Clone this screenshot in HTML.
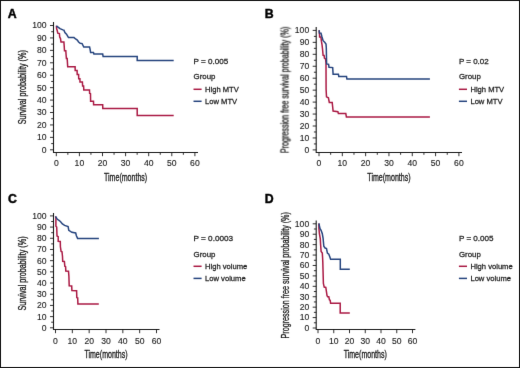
<!DOCTYPE html><html><head><meta charset="utf-8"><style>html,body{margin:0;padding:0;background:#fff}svg{display:block;will-change:transform}</style></head><body>
<svg width="520" height="368" viewBox="0 0 520 368" font-family='&quot;Liberation Sans&quot;, sans-serif'><style>text{stroke:#1c1c1c;stroke-width:0.26px}</style>
<defs><filter id="bl" x="0" y="0" width="1" height="1" color-interpolation-filters="sRGB"><feConvolveMatrix order="3" kernelMatrix="0 1 0 1 12 1 0 1 0" divisor="16" edgeMode="duplicate"/></filter></defs><g filter="url(#bl)">
<rect x="0" y="0" width="520" height="368" fill="#fff"/>
<rect x="0.5" y="0.5" width="519" height="367" fill="none" stroke="#111" stroke-width="1"/>
<g><path d="M53.5 22V153M53 152.5H198" stroke="#1a1a1a" stroke-width="1.1" fill="none"/><path d="M50 149.8H53.5M51.2 143.59H53.5M50 137.37H53.5M51.2 131.16H53.5M50 124.94H53.5M51.2 118.73H53.5M50 112.51H53.5M51.2 106.3H53.5M50 100.08H53.5M51.2 93.87H53.5M50 87.65H53.5M51.2 81.44H53.5M50 75.22H53.5M51.2 69.01H53.5M50 62.79H53.5M51.2 56.58H53.5M50 50.36H53.5M51.2 44.14H53.5M50 37.93H53.5M51.2 31.72H53.5M50 25.5H53.5M56.3 152.5V156.2M67.85 152.5V154.8M79.4 152.5V156.2M90.95 152.5V154.8M102.5 152.5V156.2M114.05 152.5V154.8M125.6 152.5V156.2M137.15 152.5V154.8M148.7 152.5V156.2M160.25 152.5V154.8M171.8 152.5V156.2M183.35 152.5V154.8M194.9 152.5V156.2" stroke="#1a1a1a" stroke-width="0.9" fill="none"/><text x="46.5" y="152.7" font-size="8.6" text-anchor="end" fill="#1c1c1c" style="stroke-width:0.12px">0</text><text x="46.5" y="140.27" font-size="8.6" text-anchor="end" fill="#1c1c1c" style="stroke-width:0.12px">10</text><text x="46.5" y="127.84" font-size="8.6" text-anchor="end" fill="#1c1c1c" style="stroke-width:0.12px">20</text><text x="46.5" y="115.41" font-size="8.6" text-anchor="end" fill="#1c1c1c" style="stroke-width:0.12px">30</text><text x="46.5" y="102.98" font-size="8.6" text-anchor="end" fill="#1c1c1c" style="stroke-width:0.12px">40</text><text x="46.5" y="90.55" font-size="8.6" text-anchor="end" fill="#1c1c1c" style="stroke-width:0.12px">50</text><text x="46.5" y="78.12" font-size="8.6" text-anchor="end" fill="#1c1c1c" style="stroke-width:0.12px">60</text><text x="46.5" y="65.69" font-size="8.6" text-anchor="end" fill="#1c1c1c" style="stroke-width:0.12px">70</text><text x="46.5" y="53.26" font-size="8.6" text-anchor="end" fill="#1c1c1c" style="stroke-width:0.12px">80</text><text x="46.5" y="40.83" font-size="8.6" text-anchor="end" fill="#1c1c1c" style="stroke-width:0.12px">90</text><text x="46.5" y="28.4" font-size="8.6" text-anchor="end" fill="#1c1c1c" style="stroke-width:0.12px">100</text><text x="56.3" y="166.1" font-size="8.6" text-anchor="middle" fill="#1c1c1c" style="stroke-width:0.12px">0</text><text x="79.4" y="166.1" font-size="8.6" text-anchor="middle" fill="#1c1c1c" style="stroke-width:0.12px">10</text><text x="102.5" y="166.1" font-size="8.6" text-anchor="middle" fill="#1c1c1c" style="stroke-width:0.12px">20</text><text x="125.6" y="166.1" font-size="8.6" text-anchor="middle" fill="#1c1c1c" style="stroke-width:0.12px">30</text><text x="148.7" y="166.1" font-size="8.6" text-anchor="middle" fill="#1c1c1c" style="stroke-width:0.12px">40</text><text x="171.8" y="166.1" font-size="8.6" text-anchor="middle" fill="#1c1c1c" style="stroke-width:0.12px">50</text><text x="194.9" y="166.1" font-size="8.6" text-anchor="middle" fill="#1c1c1c" style="stroke-width:0.12px">60</text><text x="125.6" y="180.9" font-size="11" text-anchor="middle" textLength="43.2" lengthAdjust="spacingAndGlyphs" fill="#1c1c1c" style="stroke-width:0.34px">Time(months)</text><text transform="translate(25.9 87.25) rotate(-90)" x="0" y="0" font-size="11" text-anchor="middle" textLength="74.2" lengthAdjust="spacingAndGlyphs" fill="#1c1c1c" style="stroke-width:0.34px">Survival probability (%)</text><text x="7.8" y="17.7" font-size="12.3" font-weight="bold" fill="#000" style="stroke:#000;stroke-width:0.45px">A</text><text x="193.5" y="64" font-size="8" textLength="34.7" lengthAdjust="spacingAndGlyphs" fill="#1c1c1c">P = 0.005</text><text x="193.5" y="79.3" font-size="8.1" textLength="21.9" lengthAdjust="spacingAndGlyphs" fill="#1c1c1c">Group</text><path d="M193.5 89.3H201.6" stroke="#aa1a44" stroke-width="1.5"/><path d="M193.5 101.3H201.6" stroke="#26447e" stroke-width="1.5"/><text x="205" y="91.7" font-size="8.1" textLength="33.8" lengthAdjust="spacingAndGlyphs" fill="#1c1c1c">High MTV</text><text x="205" y="104.3" font-size="8.1" textLength="32.2" lengthAdjust="spacingAndGlyphs" fill="#1c1c1c">Low MTV</text><path d="M56.4 25.8 L56.6 28.5 L57.2 30.5 L57.8 33.2 L59.4 33.6 L59.7 37.1 L60.5 38.6 L61 42 L63.9 42 L64.2 46 L64.5 50.8 L65.8 50.8 L66.1 55 L66.4 58.6 L67.2 58.6 L67.7 66.7 L75.1 66.7 L75.2 70.6 L77.1 70.6 L77.2 74.4 L78.6 74.4 L78.7 78.7 L79.9 78.7 L80 82.1 L82.4 82.1 L82.6 86 L83.6 86 L83.8 90.1 L89.5 90.1 L89.6 93.3 L90.5 93.7 L90.6 101.2 L93.5 101.2 L93.6 104.8 L102.7 104.8 L102.8 108.6 L137.2 108.6 L137.2 115.4 L173.7 115.4" stroke="#aa1a44" stroke-width="1.5" fill="none" stroke-linejoin="miter"/><path d="M56.4 25.8 L58.3 27.3 L60 28.6 L62.9 29.9 L63.9 30.2 L64.9 32.5 L66.5 34.1 L67.5 35.8 L68.5 37.6 L74 37.6 L75.6 39 L77.3 40 L78.6 42 L80.2 43.3 L82.1 43.6 L83.8 47 L89.6 47 L90.1 49.4 L90.6 52.4 L93.5 52.4 L93.9 54.1 L102.7 54.1 L103.1 56.4 L137.2 56.4 L137.2 60.6 L173.7 60.6" stroke="#26447e" stroke-width="1.5" fill="none" stroke-linejoin="miter"/></g>
<g><path d="M316.2 27V153M315.7 152.5H462" stroke="#1a1a1a" stroke-width="1.1" fill="none"/><path d="M312.7 149.9H316.2M313.9 143.93H316.2M312.7 137.95H316.2M313.9 131.97H316.2M312.7 126H316.2M313.9 120.03H316.2M312.7 114.05H316.2M313.9 108.08H316.2M312.7 102.1H316.2M313.9 96.12H316.2M312.7 90.15H316.2M313.9 84.17H316.2M312.7 78.2H316.2M313.9 72.23H316.2M312.7 66.25H316.2M313.9 60.28H316.2M312.7 54.3H316.2M313.9 48.33H316.2M312.7 42.35H316.2M313.9 36.38H316.2M312.7 30.4H316.2M319 152.5V156.2M330.66 152.5V154.8M342.32 152.5V156.2M353.98 152.5V154.8M365.63 152.5V156.2M377.29 152.5V154.8M388.95 152.5V156.2M400.61 152.5V154.8M412.27 152.5V156.2M423.92 152.5V154.8M435.58 152.5V156.2M447.24 152.5V154.8M458.9 152.5V156.2" stroke="#1a1a1a" stroke-width="0.9" fill="none"/><text x="309.2" y="152.8" font-size="8.6" text-anchor="end" fill="#1c1c1c" style="stroke-width:0.12px">0</text><text x="309.2" y="140.85" font-size="8.6" text-anchor="end" fill="#1c1c1c" style="stroke-width:0.12px">10</text><text x="309.2" y="128.9" font-size="8.6" text-anchor="end" fill="#1c1c1c" style="stroke-width:0.12px">20</text><text x="309.2" y="116.95" font-size="8.6" text-anchor="end" fill="#1c1c1c" style="stroke-width:0.12px">30</text><text x="309.2" y="105" font-size="8.6" text-anchor="end" fill="#1c1c1c" style="stroke-width:0.12px">40</text><text x="309.2" y="93.05" font-size="8.6" text-anchor="end" fill="#1c1c1c" style="stroke-width:0.12px">50</text><text x="309.2" y="81.1" font-size="8.6" text-anchor="end" fill="#1c1c1c" style="stroke-width:0.12px">60</text><text x="309.2" y="69.15" font-size="8.6" text-anchor="end" fill="#1c1c1c" style="stroke-width:0.12px">70</text><text x="309.2" y="57.2" font-size="8.6" text-anchor="end" fill="#1c1c1c" style="stroke-width:0.12px">80</text><text x="309.2" y="45.25" font-size="8.6" text-anchor="end" fill="#1c1c1c" style="stroke-width:0.12px">90</text><text x="309.2" y="33.3" font-size="8.6" text-anchor="end" fill="#1c1c1c" style="stroke-width:0.12px">100</text><text x="319" y="166.1" font-size="8.6" text-anchor="middle" fill="#1c1c1c" style="stroke-width:0.12px">0</text><text x="342.32" y="166.1" font-size="8.6" text-anchor="middle" fill="#1c1c1c" style="stroke-width:0.12px">10</text><text x="365.63" y="166.1" font-size="8.6" text-anchor="middle" fill="#1c1c1c" style="stroke-width:0.12px">20</text><text x="388.95" y="166.1" font-size="8.6" text-anchor="middle" fill="#1c1c1c" style="stroke-width:0.12px">30</text><text x="412.27" y="166.1" font-size="8.6" text-anchor="middle" fill="#1c1c1c" style="stroke-width:0.12px">40</text><text x="435.58" y="166.1" font-size="8.6" text-anchor="middle" fill="#1c1c1c" style="stroke-width:0.12px">50</text><text x="458.9" y="166.1" font-size="8.6" text-anchor="middle" fill="#1c1c1c" style="stroke-width:0.12px">60</text><text x="388.95" y="180.9" font-size="11" text-anchor="middle" textLength="43.2" lengthAdjust="spacingAndGlyphs" fill="#1c1c1c" style="stroke-width:0.34px">Time(months)</text><text transform="translate(288.5 89.8) rotate(-90)" x="0" y="0" font-size="11" text-anchor="middle" textLength="126.3" lengthAdjust="spacingAndGlyphs" fill="#1c1c1c" style="stroke-width:0.34px">Progression free survival probability (%)</text><text x="264.7" y="17.7" font-size="12.3" font-weight="bold" fill="#000" style="stroke:#000;stroke-width:0.45px">B</text><text x="458.9" y="64" font-size="8" textLength="29.8" lengthAdjust="spacingAndGlyphs" fill="#1c1c1c">P = 0.02</text><text x="458.9" y="79.3" font-size="8.1" textLength="21.9" lengthAdjust="spacingAndGlyphs" fill="#1c1c1c">Group</text><path d="M458.9 89.3H467" stroke="#aa1a44" stroke-width="1.5"/><path d="M458.9 101.3H467" stroke="#26447e" stroke-width="1.5"/><text x="470.4" y="91.7" font-size="8.1" textLength="33.8" lengthAdjust="spacingAndGlyphs" fill="#1c1c1c">High MTV</text><text x="470.4" y="104.3" font-size="8.1" textLength="32.2" lengthAdjust="spacingAndGlyphs" fill="#1c1c1c">Low MTV</text><path d="M319.2 30.3 L319.5 34.2 L319.6 36.9 L320.9 36.9 L321.4 41.2 L322 44.5 L322.5 48.8 L323.1 55.3 L324.1 55.5 L324.4 58.1 L325.5 59 L326 63 L326.1 89.2 L326.5 96.8 L328.4 97.8 L329.3 102.5 L332.2 102.5 L333.1 111.1 L337.9 111.7 L338.4 113.6 L345.8 113.6 L346.4 116.9 L429.9 116.9" stroke="#aa1a44" stroke-width="1.5" fill="none" stroke-linejoin="miter"/><path d="M319.2 30.3 L319.4 33 L321 33.1 L321.8 36.3 L323.1 40.7 L324.7 42.3 L326 44 L326.3 47.7 L326.6 63.9 L328.6 64.3 L329 67.3 L332.7 67.6 L333.1 74.2 L338.4 74.3 L338.8 76.5 L346.5 76.5 L346.9 78.9 L429.9 78.9" stroke="#26447e" stroke-width="1.5" fill="none" stroke-linejoin="miter"/></g>
<g><path d="M53.5 213V330M53 329.5H159.5" stroke="#1a1a1a" stroke-width="1.1" fill="none"/><path d="M50 327.8H53.5M51.2 322.2H53.5M50 316.61H53.5M51.2 311.01H53.5M50 305.42H53.5M51.2 299.82H53.5M50 294.23H53.5M51.2 288.63H53.5M50 283.04H53.5M51.2 277.44H53.5M50 271.85H53.5M51.2 266.25H53.5M50 260.66H53.5M51.2 255.06H53.5M50 249.47H53.5M51.2 243.88H53.5M50 238.28H53.5M51.2 232.69H53.5M50 227.09H53.5M51.2 221.5H53.5M50 215.9H53.5M55.5 329.5V333.2M72.33 329.5V333.2M89.17 329.5V333.2M106 329.5V333.2M122.83 329.5V333.2M139.67 329.5V333.2M156.5 329.5V333.2" stroke="#1a1a1a" stroke-width="0.9" fill="none"/><text x="46.5" y="330.7" font-size="8.6" text-anchor="end" fill="#1c1c1c" style="stroke-width:0.12px">0</text><text x="46.5" y="319.51" font-size="8.6" text-anchor="end" fill="#1c1c1c" style="stroke-width:0.12px">10</text><text x="46.5" y="308.32" font-size="8.6" text-anchor="end" fill="#1c1c1c" style="stroke-width:0.12px">20</text><text x="46.5" y="297.13" font-size="8.6" text-anchor="end" fill="#1c1c1c" style="stroke-width:0.12px">30</text><text x="46.5" y="285.94" font-size="8.6" text-anchor="end" fill="#1c1c1c" style="stroke-width:0.12px">40</text><text x="46.5" y="274.75" font-size="8.6" text-anchor="end" fill="#1c1c1c" style="stroke-width:0.12px">50</text><text x="46.5" y="263.56" font-size="8.6" text-anchor="end" fill="#1c1c1c" style="stroke-width:0.12px">60</text><text x="46.5" y="252.37" font-size="8.6" text-anchor="end" fill="#1c1c1c" style="stroke-width:0.12px">70</text><text x="46.5" y="241.18" font-size="8.6" text-anchor="end" fill="#1c1c1c" style="stroke-width:0.12px">80</text><text x="46.5" y="229.99" font-size="8.6" text-anchor="end" fill="#1c1c1c" style="stroke-width:0.12px">90</text><text x="46.5" y="218.8" font-size="8.6" text-anchor="end" fill="#1c1c1c" style="stroke-width:0.12px">100</text><text x="55.5" y="343.8" font-size="8.6" text-anchor="middle" fill="#1c1c1c" style="stroke-width:0.12px">0</text><text x="72.33" y="343.8" font-size="8.6" text-anchor="middle" fill="#1c1c1c" style="stroke-width:0.12px">10</text><text x="89.17" y="343.8" font-size="8.6" text-anchor="middle" fill="#1c1c1c" style="stroke-width:0.12px">20</text><text x="106" y="343.8" font-size="8.6" text-anchor="middle" fill="#1c1c1c" style="stroke-width:0.12px">30</text><text x="122.83" y="343.8" font-size="8.6" text-anchor="middle" fill="#1c1c1c" style="stroke-width:0.12px">40</text><text x="139.67" y="343.8" font-size="8.6" text-anchor="middle" fill="#1c1c1c" style="stroke-width:0.12px">50</text><text x="156.5" y="343.8" font-size="8.6" text-anchor="middle" fill="#1c1c1c" style="stroke-width:0.12px">60</text><text x="106" y="357.9" font-size="11" text-anchor="middle" textLength="43.2" lengthAdjust="spacingAndGlyphs" fill="#1c1c1c" style="stroke-width:0.34px">Time(months)</text><text transform="translate(25.9 273.45) rotate(-90)" x="0" y="0" font-size="11" text-anchor="middle" textLength="74.2" lengthAdjust="spacingAndGlyphs" fill="#1c1c1c" style="stroke-width:0.34px">Survival probability (%)</text><text x="7.9" y="202.7" font-size="12.3" font-weight="bold" fill="#000" style="stroke:#000;stroke-width:0.45px">C</text><text x="193.5" y="241.3" font-size="8" textLength="39.6" lengthAdjust="spacingAndGlyphs" fill="#1c1c1c">P = 0.0003</text><text x="193.5" y="257.1" font-size="8.1" textLength="21.9" lengthAdjust="spacingAndGlyphs" fill="#1c1c1c">Group</text><path d="M193.5 266.3H201.6" stroke="#aa1a44" stroke-width="1.5"/><path d="M193.5 278.4H201.6" stroke="#26447e" stroke-width="1.5"/><text x="205" y="268.6" font-size="8.1" textLength="42.3" lengthAdjust="spacingAndGlyphs" fill="#1c1c1c">High volume</text><text x="205" y="281" font-size="8.1" textLength="40.7" lengthAdjust="spacingAndGlyphs" fill="#1c1c1c">Low volume</text><path d="M55.5 216.4 L55.9 217.8 L55.9 226.2 L56.7 227 L57 236 L58.2 236.6 L58.2 241.3 L60.3 241.5 L60.4 246.8 L61.1 251.4 L62 251.8 L62.5 256.5 L62.7 261.3 L64.4 261.5 L64.8 266.2 L65.6 266.6 L65.8 271.1 L68.5 271.2 L68.9 276.3 L69.2 285.7 L71.7 285.9 L71.9 290.6 L76.6 290.7 L76.8 297.6 L77.7 297.9 L77.9 303.9 L98.8 303.9" stroke="#aa1a44" stroke-width="1.5" fill="none" stroke-linejoin="miter"/><path d="M55.5 216.4 L57.4 219.3 L59.3 220.5 L60.8 222 L62.4 223.9 L64.6 225.4 L68.1 226.5 L68.8 230.3 L71.9 232.3 L75.7 233 L76.4 235.7 L77.6 238.4 L98.9 238.4" stroke="#26447e" stroke-width="1.5" fill="none" stroke-linejoin="miter"/></g>
<g><path d="M316.2 220.5V330M315.7 329.5H415.4" stroke="#1a1a1a" stroke-width="1.1" fill="none"/><path d="M312.7 328H316.2M313.9 322.79H316.2M312.7 317.58H316.2M313.9 312.37H316.2M312.7 307.16H316.2M313.9 301.95H316.2M312.7 296.74H316.2M313.9 291.53H316.2M312.7 286.32H316.2M313.9 281.11H316.2M312.7 275.9H316.2M313.9 270.69H316.2M312.7 265.48H316.2M313.9 260.27H316.2M312.7 255.06H316.2M313.9 249.85H316.2M312.7 244.64H316.2M313.9 239.43H316.2M312.7 234.22H316.2M313.9 229.01H316.2M312.7 223.8H316.2M318 329.5V333.2M333.75 329.5V333.2M349.5 329.5V333.2M365.25 329.5V333.2M381 329.5V333.2M396.75 329.5V333.2M412.5 329.5V333.2" stroke="#1a1a1a" stroke-width="0.9" fill="none"/><text x="309.2" y="330.9" font-size="8.6" text-anchor="end" fill="#1c1c1c" style="stroke-width:0.12px">0</text><text x="309.2" y="320.48" font-size="8.6" text-anchor="end" fill="#1c1c1c" style="stroke-width:0.12px">10</text><text x="309.2" y="310.06" font-size="8.6" text-anchor="end" fill="#1c1c1c" style="stroke-width:0.12px">20</text><text x="309.2" y="299.64" font-size="8.6" text-anchor="end" fill="#1c1c1c" style="stroke-width:0.12px">30</text><text x="309.2" y="289.22" font-size="8.6" text-anchor="end" fill="#1c1c1c" style="stroke-width:0.12px">40</text><text x="309.2" y="278.8" font-size="8.6" text-anchor="end" fill="#1c1c1c" style="stroke-width:0.12px">50</text><text x="309.2" y="268.38" font-size="8.6" text-anchor="end" fill="#1c1c1c" style="stroke-width:0.12px">60</text><text x="309.2" y="257.96" font-size="8.6" text-anchor="end" fill="#1c1c1c" style="stroke-width:0.12px">70</text><text x="309.2" y="247.54" font-size="8.6" text-anchor="end" fill="#1c1c1c" style="stroke-width:0.12px">80</text><text x="309.2" y="237.12" font-size="8.6" text-anchor="end" fill="#1c1c1c" style="stroke-width:0.12px">90</text><text x="309.2" y="226.7" font-size="8.6" text-anchor="end" fill="#1c1c1c" style="stroke-width:0.12px">100</text><text x="318" y="343.8" font-size="8.6" text-anchor="middle" fill="#1c1c1c" style="stroke-width:0.12px">0</text><text x="333.75" y="343.8" font-size="8.6" text-anchor="middle" fill="#1c1c1c" style="stroke-width:0.12px">10</text><text x="349.5" y="343.8" font-size="8.6" text-anchor="middle" fill="#1c1c1c" style="stroke-width:0.12px">20</text><text x="365.25" y="343.8" font-size="8.6" text-anchor="middle" fill="#1c1c1c" style="stroke-width:0.12px">30</text><text x="381" y="343.8" font-size="8.6" text-anchor="middle" fill="#1c1c1c" style="stroke-width:0.12px">40</text><text x="396.75" y="343.8" font-size="8.6" text-anchor="middle" fill="#1c1c1c" style="stroke-width:0.12px">50</text><text x="412.5" y="343.8" font-size="8.6" text-anchor="middle" fill="#1c1c1c" style="stroke-width:0.12px">60</text><text x="365.25" y="357.9" font-size="11" text-anchor="middle" textLength="43.2" lengthAdjust="spacingAndGlyphs" fill="#1c1c1c" style="stroke-width:0.34px">Time(months)</text><text transform="translate(288.5 275.3) rotate(-90)" x="0" y="0" font-size="11" text-anchor="middle" textLength="126.3" lengthAdjust="spacingAndGlyphs" fill="#1c1c1c" style="stroke-width:0.34px">Progression free survival probability (%)</text><text x="264.7" y="202.7" font-size="12.3" font-weight="bold" fill="#000" style="stroke:#000;stroke-width:0.45px">D</text><text x="458.9" y="241.3" font-size="8" textLength="34.7" lengthAdjust="spacingAndGlyphs" fill="#1c1c1c">P = 0.005</text><text x="458.9" y="257.1" font-size="8.1" textLength="21.9" lengthAdjust="spacingAndGlyphs" fill="#1c1c1c">Group</text><path d="M458.9 266.3H467" stroke="#aa1a44" stroke-width="1.5"/><path d="M458.9 278.4H467" stroke="#26447e" stroke-width="1.5"/><text x="470.4" y="268.6" font-size="8.1" textLength="42.3" lengthAdjust="spacingAndGlyphs" fill="#1c1c1c">High volume</text><text x="470.4" y="281" font-size="8.1" textLength="40.7" lengthAdjust="spacingAndGlyphs" fill="#1c1c1c">Low volume</text><path d="M318.9 223.4 L318.9 228 L319.4 233.7 L320.3 238.8 L320.6 244.5 L321.1 251.4 L322.3 253.1 L322.6 257.7 L322.8 262 L323 269.2 L323.4 283.5 L324.2 287.1 L325.8 287.4 L326.4 291.3 L327 295.5 L327.6 296.7 L328.8 296.7 L329.4 299.7 L330.2 300.3 L330.6 303.3 L340.2 303.3 L340.2 313 L349.8 313" stroke="#aa1a44" stroke-width="1.5" fill="none" stroke-linejoin="miter"/><path d="M318.9 223.4 L320 228.6 L321.1 230.3 L322.3 233.7 L323.1 238.3 L323.8 246.3 L325.1 248 L326.5 248.5 L327.4 253.1 L328.8 254.2 L329.7 256.5 L330.6 259.3 L340.3 259.3 L340.3 269.2 L349.8 269.2" stroke="#26447e" stroke-width="1.5" fill="none" stroke-linejoin="miter"/></g>
</g></svg></body></html>
